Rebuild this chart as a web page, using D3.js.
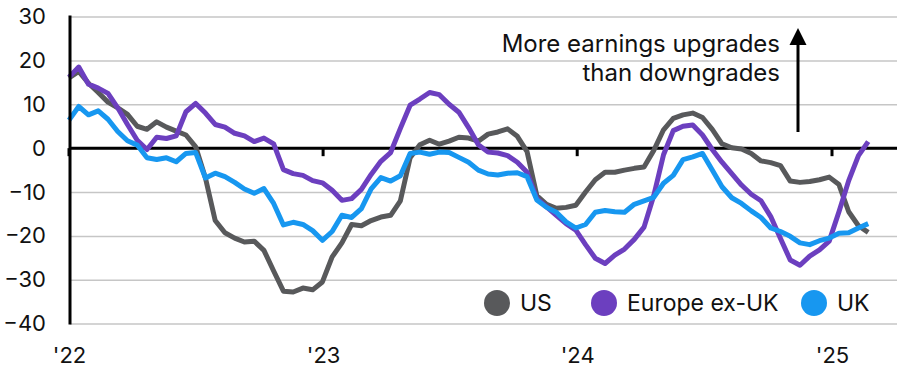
<!DOCTYPE html>
<html>
<head>
<meta charset="utf-8">
<script src="https://cdn.jsdelivr.net/npm/d3@7"></script>
<style>
  body { margin: 0; background: #fff; }
  text { font-family: Inter, "Noto Sans", sans-serif; }
</style>
</head>
<body>
<div id="plot"></div>
<script>
// data: fortnightly readings, first one on 1 Jan 2022
const startDate = "2022-01-01";
const stepDays = 14;

const seriesNames = ["US", "Europe ex-UK", "UK"];

const usValues = [16, 17.5, 14.8, 12.7, 10.5, 9.2, 7.7, 5.0, 4.3, 6.0,
  4.8, 3.9, 3.0, 0.3, -6.8, -16.5, -19.3, -20.5, -21.4, -21.2,
  -23.3, -28, -32.6, -32.8, -31.9, -32.3, -30.5, -24.8, -21.6, -17.4,
  -17.7, -16.5, -15.7, -15.3, -12, -2.2, 0.8, 1.8, 0.9, 1.6,
  2.5, 2.3, 1.6, 3.2, 3.7, 4.4, 2.7, -0.8, -10.8, -12.8,
  -13.7, -13.5, -13, -10, -7.2, -5.5, -5.5, -5.0, -4.6, -4.3,
  -0.5, 4.2, 6.8, 7.6, 8.0, 7.0, 4.3, 1.0, 0.1, -0.2,
  -1.2, -2.9, -3.3, -4.0, -7.5, -7.8, -7.6, -7.2, -6.6, -8.3,
  -14.5, -17.7, -19.2];

const europeValues = [16.2, 18.5, 14.6, 13.7, 12.5, 9.2, 5.4, 1.8, -0.3, 2.5,
  2.2, 2.8, 8.3, 10.2, 8.0, 5.4, 4.8, 3.4, 2.8, 1.5,
  2.3, 1.0, -4.9, -5.8, -6.2, -7.4, -7.9, -9.6, -11.9, -11.5,
  -9.4, -6.0, -3.0, -1.0, 4.5, 9.8, 11.2, 12.7, 12.2, 10.0,
  8.2, 4.7, 0.8, -0.9, -1.1, -1.7, -3.2, -5.5, -11.5, -13.4,
  -15.3, -17.2, -18.7, -22, -25.1, -26.3, -24.4, -23, -20.8, -18.0,
  -10.8, -1.5, 4.0, 5.0, 5.3, 3.0, -0.3, -3.2, -5.8, -8.4,
  -10.5, -12.0, -15.6, -20.6, -25.5, -26.7, -24.6, -23.2, -21.2, -14.5,
  -7.4, -1.7, 1.5];

const ukValues = [6.4, 9.5, 7.6, 8.5, 6.6, 3.8, 1.7, 0.7, -2.2, -2.6,
  -2.2, -3.1, -1.2, -1.0, -6.8, -5.7, -6.5, -7.8, -9.3, -10.3,
  -9.2, -12.6, -17.5, -16.9, -17.4, -18.8, -21, -19, -15.3, -15.8,
  -13.8, -9.3, -6.7, -7.5, -6.3, -1.2, -0.9, -1.4, -0.9, -1.0,
  -2.1, -3.2, -5.0, -5.9, -6.1, -5.7, -5.6, -6.5, -11.8, -13.5,
  -14.6, -16.8, -18.2, -17.4, -14.6, -14.2, -14.5, -14.6, -12.8, -12,
  -11.2, -8.0, -6.2, -2.6, -2.0, -1.2, -5.0, -8.8, -11.3, -12.6,
  -14.3, -15.8, -18.2, -19.0, -20.1, -21.6, -22.0, -21.1, -20.5, -19.4,
  -19.3, -18.2, -17.2];

const yTicks = [-40, -30, -20, -10, 0, 10, 20, 30];
const xTickYears = [2022, 2023, 2024, 2025];
const xTickLabels = ["'22", "'23", "'24", "'25"];
const annotationLines = ["More earnings upgrades", "than downgrades"];

// layout
const w = 910, h = 378;
const margin = {left: 70, right: 897, top: 16.6, bottom: 323.6};
const colors = ["#58595b", "#6c3fbf", "#1797f0"];
const legendX = [497, 604, 814];

const svg = d3.select("div#plot")
  .append("svg")
    .attr("width", w)
    .attr("height", h);

const parse = d3.timeParse("%Y-%m-%d");
const start = parse(startDate);
const dates = usValues.map((v, i) => d3.timeDay.offset(start, i * stepDays));

const x = d3.scaleTime()
  .domain([new Date(2022, 0, 1), new Date(2025, 0, 1)])
  .range([69, 832]);

const y = d3.scaleLinear()
  .domain([-40, 30])
  .range([margin.bottom, margin.top]);

// gridlines
svg.append("g")
  .attr("class", "grid")
  .attr("transform", `translate(${margin.left}, 0)`)
  .call(d3.axisRight(y).tickValues(yTicks).tickSize(margin.right - margin.left).tickFormat(""))
  .call(g => g.select(".domain").remove())
  .call(g => g.selectAll("line").attr("stroke", "#c6c6c6").attr("stroke-width", 1.5));

// y labels
svg.append("g")
  .attr("class", "yAxis")
  .attr("transform", `translate(${margin.left}, 0)`)
  .call(d3.axisLeft(y).tickValues(yTicks).tickSize(0).tickPadding(24))
  .call(g => g.select(".domain").remove())
  .call(g => g.selectAll("text")
    .attr("fill", "#111")
    .style("font-size", "22px")
    .style("font-family", "Inter, sans-serif"));

// zero line and year ticks
svg.append("line")
  .attr("x1", margin.left).attr("x2", margin.right)
  .attr("y1", y(0)).attr("y2", y(0))
  .attr("stroke", "#000").attr("stroke-width", 3);

svg.append("g")
  .selectAll("line")
  .data(xTickYears)
  .enter().append("line")
    .attr("x1", d => x(new Date(d, 0, 1)))
    .attr("x2", d => x(new Date(d, 0, 1)))
    .attr("y1", y(0))
    .attr("y2", y(0) + 8)
    .attr("stroke", "#000")
    .attr("stroke-width", 3);

// x labels
svg.append("g")
  .attr("class", "xAxis")
  .attr("transform", `translate(0, ${margin.bottom})`)
  .call(d3.axisBottom(x)
    .tickValues(xTickYears.map(d => new Date(d, 0, 1)))
    .tickFormat((d, i) => xTickLabels[i])
    .tickSize(0).tickPadding(24))
  .call(g => g.select(".domain").remove())
  .call(g => g.selectAll("text")
    .attr("fill", "#111")
    .style("font-size", "22px")
    .style("font-family", "Inter, sans-serif"));

// lines
const line = d3.line()
  .x(d => x(d.date))
  .y(d => y(d.value));

const allValues = [usValues, europeValues, ukValues];

allValues.forEach((vals, k) => {
  svg.append("path")
    .datum(vals.map((v, i) => ({date: dates[i], value: v})))
    .attr("fill", "none")
    .attr("stroke", colors[k])
    .attr("stroke-width", 5)
    .attr("stroke-linejoin", "round")
    .attr("d", line);
});

// left axis line
svg.append("line")
  .attr("x1", margin.left).attr("x2", margin.left)
  .attr("y1", margin.top - 1).attr("y2", margin.bottom + 1)
  .attr("stroke", "#000").attr("stroke-width", 3);

// annotation
svg.append("text")
  .attr("x", 780)
  .attr("y", 52)
  .attr("text-anchor", "end")
  .style("font-size", "24px")
  .attr("fill", "#111")
  .selectAll("tspan")
  .data(annotationLines)
  .enter().append("tspan")
    .attr("x", 780)
    .attr("dy", (d, i) => i == 0 ? 0 : 29)
    .text(d => d);

svg.append("line")
  .attr("x1", 798).attr("x2", 798)
  .attr("y1", 132).attr("y2", 42)
  .attr("stroke", "#000").attr("stroke-width", 3);

svg.append("path")
  .attr("d", "M789.5,45 L806.5,45 L798,28 Z")
  .attr("fill", "#000");

// legend
const legend = svg.append("g")
  .selectAll("g")
  .data(seriesNames)
  .enter().append("g")
    .attr("transform", (d, i) => `translate(${legendX[i]}, 303)`);

legend.append("circle")
  .attr("r", 13)
  .attr("fill", (d, i) => colors[i]);

legend.append("text")
  .attr("x", 23)
  .attr("dy", "0.36em")
  .style("font-size", "23px")
  .attr("fill", "#111")
  .text(d => d);
</script>
</body>
</html>
